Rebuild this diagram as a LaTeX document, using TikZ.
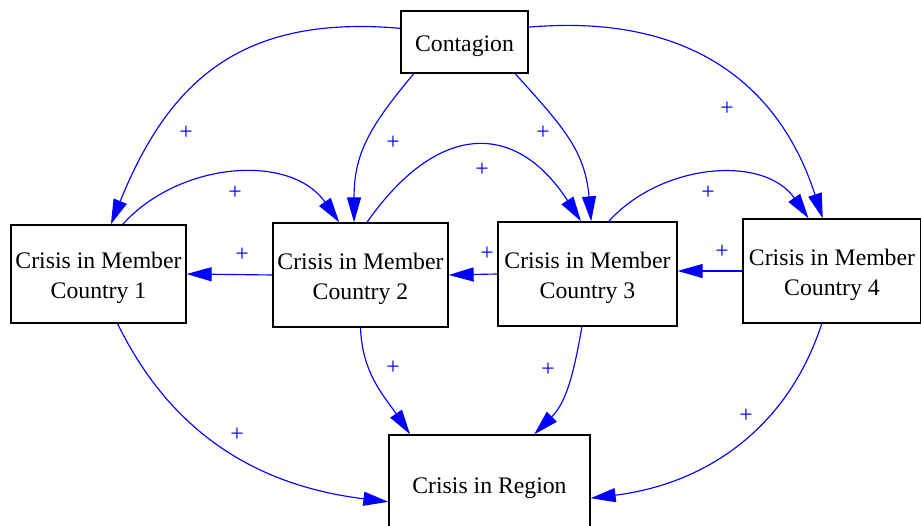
\documentclass[tikz,border=0pt]{standalone}
\usepackage{fontspec}
\setmainfont{Liberation Serif}
\usetikzlibrary{arrows.meta}

\newcommand{\topgap}{\rule{0pt}{14pt}}

\tikzset{
  box/.style={draw=black, line width=0.75pt, inner sep=0pt, align=center,
              font=\fontsize{13.5}{17}\selectfont},
  sign/.style={text=blue, inner sep=0pt, font=\fontsize{13.5}{17}\selectfont},
  link/.style={draw=blue, line width=0.65pt}
}

\begin{document}
\begin{tikzpicture}[x=0.02cm, y=0.02cm, ->, >={Triangle[length=0.5cm,width=0.28cm]},
                    every edge/.style={link}]
  \useasboundingbox (0,0) rectangle (921,526);
  \begin{scope}
  \clip (0,0) rectangle (921,526);

  \node[box, minimum width=2.54cm, minimum height=1.24cm] (cont) at (464.5,484) {\topgap Contagion};
  \node[box, minimum width=3.5cm,  minimum height=1.96cm] (c1)   at (98.5,252)  {\topgap Crisis in Member\\Country 1};
  \node[box, minimum width=3.5cm,  minimum height=2.08cm] (c2)   at (360.5,251) {\topgap Crisis in Member\\Country 2};
  \node[box, minimum width=3.58cm, minimum height=2.08cm] (c3)   at (587.5,252) {\topgap Crisis in Member\\Country 3};
  \node[box, minimum width=3.56cm, minimum height=2.08cm] (c4)   at (832,255)   {\topgap Crisis in Member\\Country 4};
  \node[box, minimum width=4.02cm, minimum height=1.96cm] (reg)  at (489.5,42)  {\topgap Crisis in Region};

  % contagion spreads to every member
  \path (cont.168) edge [out=175, in=68, looseness=1.15] (c1.76)
        (cont.212) edge [out=230, in=90, looseness=1.1]  (c2.97)
        (cont.328) edge [out=-48, in=95, looseness=1.1]  (c3.86)
        (cont.13)  edge [out=5,   in=108, looseness=1.1] (c4.100);

  % neighbour to neighbour
  \path (c1.64)  edge [out=48, in=125]                 (c2.112)
        (c2.83)  edge [out=55, in=123, looseness=1.45] (c3.97)
        (c3.68)  edge [out=48, in=125]                 (c4.114)
        (c2.west) edge (c1.east)
        (c3.west) edge (c2.east)
        (c4.west) edge (c4.west -| c3.east);

  % members to region
  \path (c1.-69)  edge [out=-64, in=173] (reg.190)
        (c2.south) edge [out=-88, in=124] (reg.148)
        (c3.264)  edge [out=-100, in=45] (reg.48)
        (c4.259)  edge [out=252, in=7]   (reg.-8);

  \node[sign] (s1)  at (186,393) {+};
  \node[sign] (s2)  at (393,383) {+};
  \node[sign] (s3)  at (543,393) {+};
  \node[sign] (s4)  at (727,417) {+};
  \node[sign] (s5)  at (235,333) {+};
  \node[sign] (s6)  at (482,356) {+};
  \node[sign] (s7)  at (708,333) {+};
  \node[sign] (s8)  at (242,271) {+};
  \node[sign] (s9)  at (487,272) {+};
  \node[sign] (s10) at (722,274) {+};
  \node[sign] (s11) at (237,91)  {+};
  \node[sign] (s12) at (393,158) {+};
  \node[sign] (s13) at (548,156) {+};
  \node[sign] (s14) at (746,110) {+};
  \end{scope}
\end{tikzpicture}
\end{document}
